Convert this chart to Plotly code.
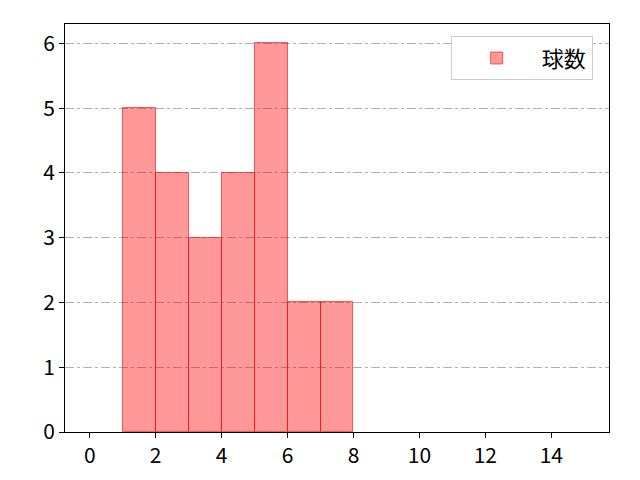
import plotly.graph_objects as go

# histogram bins (left edges) and counts
bin_left = [1, 2, 3, 4, 5, 6, 7]
counts = [5, 4, 3, 4, 6, 2, 2]
series_name = "球数"

x_ticks = [0, 2, 4, 6, 8, 10, 12, 14]
y_ticks = [0, 1, 2, 3, 4, 5, 6]

fig = go.Figure()
fig.add_trace(go.Bar(
    x=[b + 0.5 for b in bin_left],
    y=counts,
    width=1,
    name=series_name,
    marker=dict(color="rgba(255,0,0,0.4)", line=dict(color="rgba(255,0,0,0.6)", width=1)),
    showlegend=True,
))

# page body has an 8px margin, so the figure is shifted accordingly
fig.update_layout(
    width=640, height=480,
    margin=dict(l=57, r=39, t=16, b=56),
    plot_bgcolor="white", paper_bgcolor="white",
    font=dict(family="Noto Sans CJK JP", size=21, color="black"),
    bargap=0,
    legend=dict(x=0.97, y=0.97, xanchor="right", yanchor="top",
                bordercolor="#cccccc", borderwidth=1, bgcolor="white",
                font=dict(size=22), itemwidth=80),
    xaxis=dict(range=[-0.75, 15.75], tickvals=x_ticks, showgrid=False,
               showline=True, mirror=True, linecolor="black", linewidth=1,
               ticks="outside", ticklen=5, tickcolor="black", zeroline=False),
    yaxis=dict(range=[0, 6.3], tickvals=y_ticks, showgrid=True,
               gridcolor="#b0b0b0", griddash="dashdot", gridwidth=1,
               showline=True, mirror=True, linecolor="black", linewidth=1,
               ticks="outside", ticklen=5, tickcolor="black", zeroline=False),
)

fig.write_html("out.html")
